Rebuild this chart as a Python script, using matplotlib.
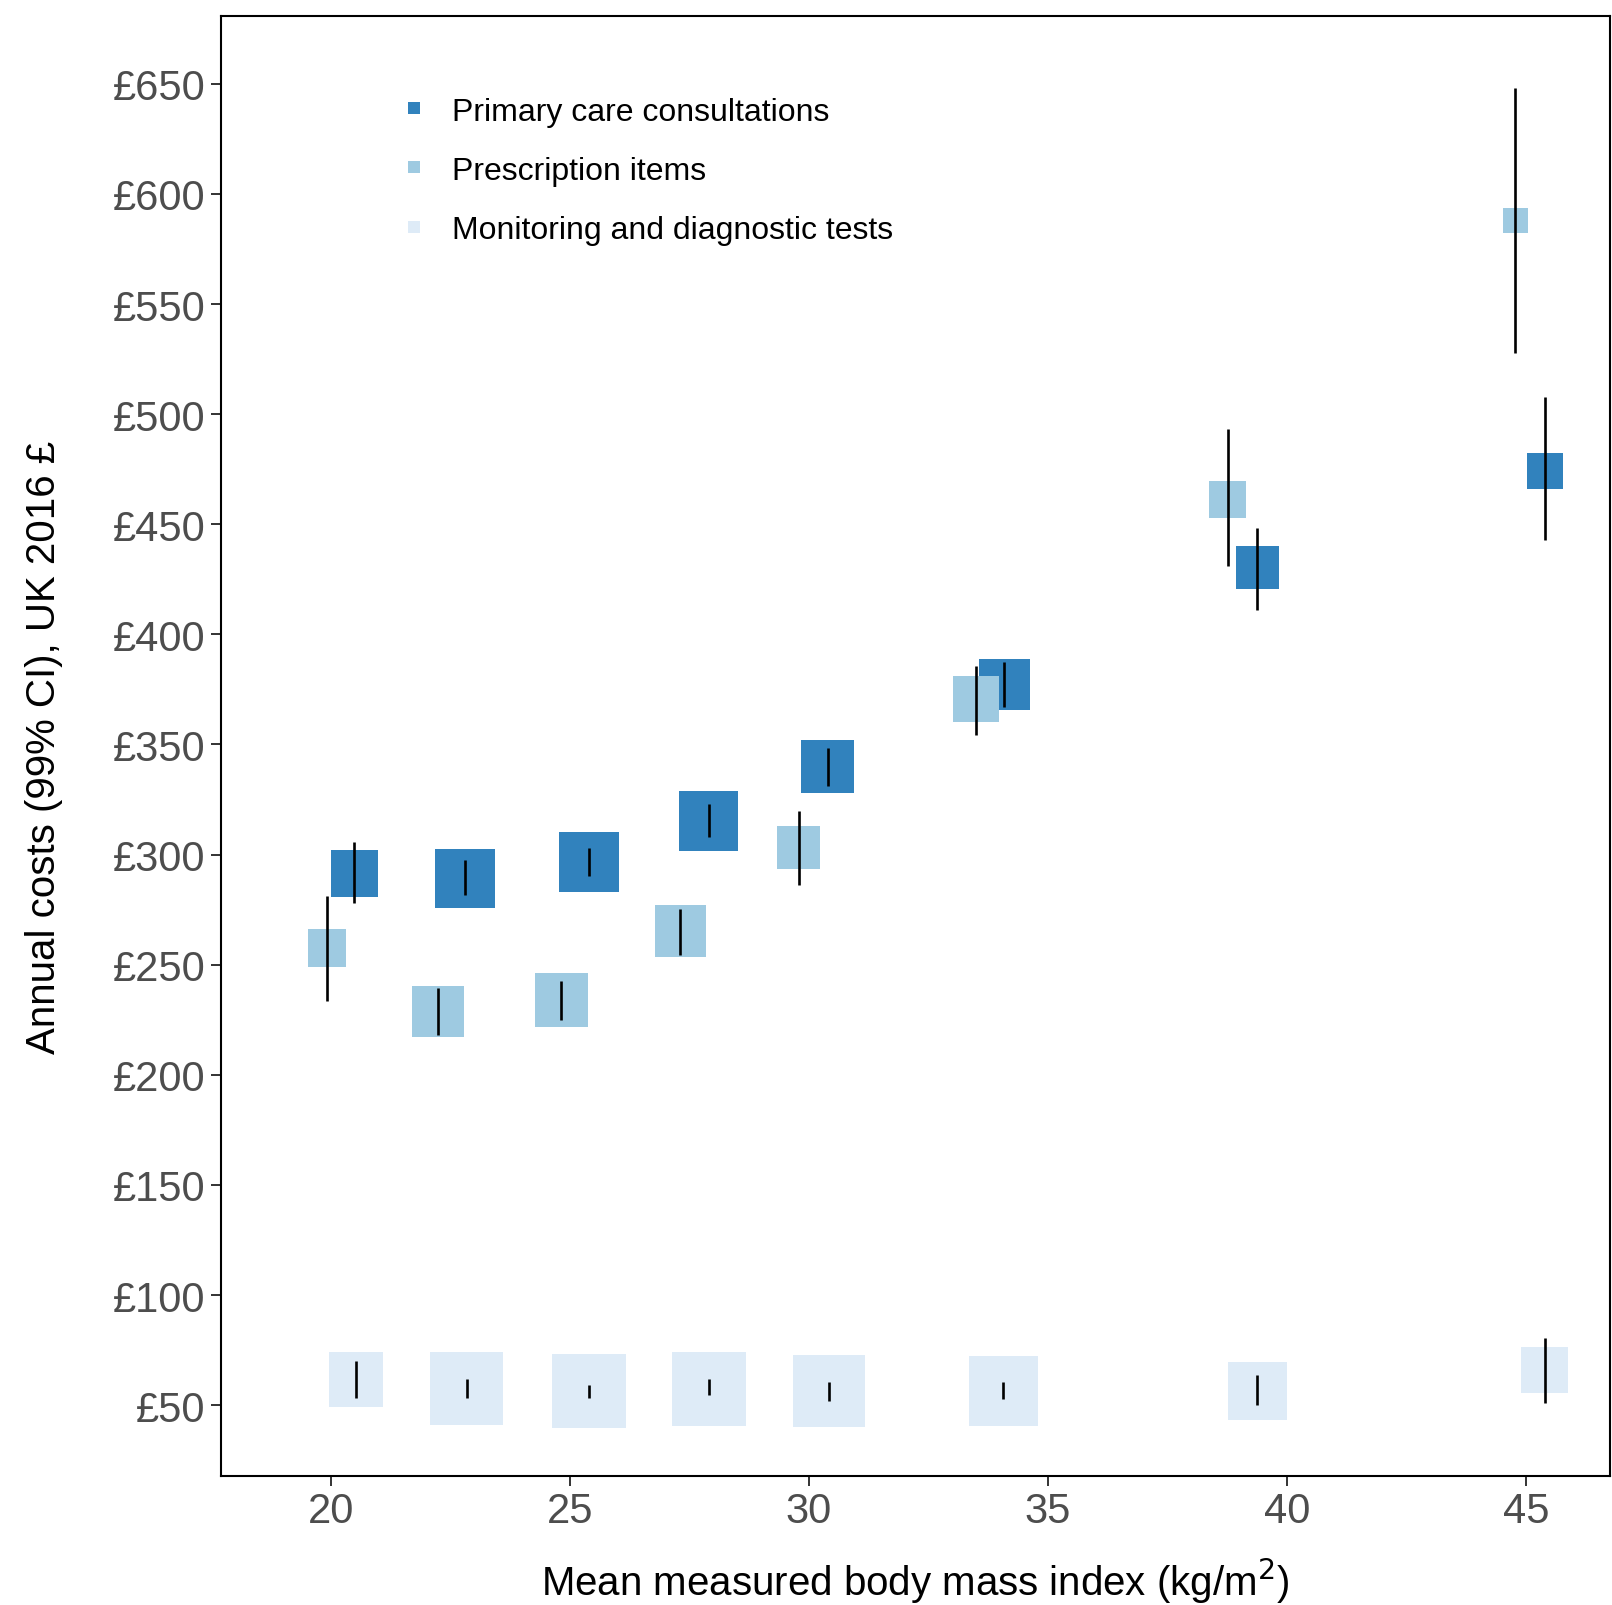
import matplotlib.pyplot as plt
from matplotlib.lines import Line2D

plt.rcParams['font.family'] = ['Liberation Sans', 'DejaVu Sans']

# mean BMI of each group
bmi_primary = [20.49, 22.80, 25.40, 27.90, 30.39, 34.09, 39.38, 45.39]
bmi_presc = [19.91, 22.24, 24.82, 27.31, 29.79, 33.49, 38.76, 44.78]
bmi_monit = [20.52, 22.84, 25.40, 27.90, 30.41, 34.07, 39.38, 45.39]

# annual cost with 99% CI
cost_primary = [291.4, 289.1, 296.5, 315.2, 340.0, 377.3, 430.5, 474.4]
lo_primary = [277.9, 281.6, 290.5, 308.2, 331.1, 367.1, 410.9, 442.7]
hi_primary = [305.9, 297.5, 303.1, 323.2, 348.4, 387.6, 448.3, 507.6]

cost_presc = [257.8, 228.8, 234.0, 265.3, 303.1, 370.8, 461.4, 587.9]
lo_presc = [233.5, 218.1, 225.1, 254.5, 286.3, 354.4, 431.0, 527.7]
hi_presc = [281.1, 239.6, 242.8, 275.5, 319.9, 385.7, 493.1, 648.1]

cost_monit = [61.7, 57.5, 56.5, 57.5, 56.5, 56.5, 56.5, 65.9]
lo_monit = [53.3, 53.3, 53.3, 54.7, 51.9, 52.9, 50.0, 50.9]
hi_monit = [70.1, 61.7, 59.3, 61.7, 60.3, 60.3, 63.5, 80.4]

# relative weight of each group (drawn as square size)
w_primary = [46, 58, 58, 58, 52, 50, 42, 35]
w_presc = [37, 50, 52, 50, 42, 45, 36, 24]
w_monit = [53, 71, 72, 72, 70, 68, 57, 45]

series = [
    ("Primary care consultations", bmi_primary, cost_primary, lo_primary, hi_primary, w_primary, "#3182bd"),
    ("Prescription items", bmi_presc, cost_presc, lo_presc, hi_presc, w_presc, "#9ecae1"),
    ("Monitoring and diagnostic tests", bmi_monit, cost_monit, lo_monit, hi_monit, w_monit, "#deebf7"),
]

fig = plt.figure(figsize=(16.12, 16.06), dpi=100)
ax = fig.add_axes([0.1371, 0.0803, 0.8617, 0.9091])

px2pt = 1.028 * 0.72
handles = []
for name, x, y, lo, hi, w, col in series:
    ax.scatter(x, y, s=[(v * px2pt) ** 2 for v in w], marker='s', color=col,
               linewidths=0, zorder=2)
    handles.append(Line2D([], [], marker='s', linestyle='none', color=col,
                          markersize=9, markeredgewidth=0, label=name))
for name, x, y, lo, hi, w, col in series:
    ax.vlines(x, lo, hi, color='black', linewidth=1.9, zorder=3)

ax.set_xlim(17.70, 46.76)
ax.set_ylim(17.8, 680.8)
ax.set_xticks([20, 25, 30, 35, 40, 45])
yt = list(range(50, 651, 50))
ax.set_yticks(yt)
ax.set_yticklabels(['£%d' % v for v in yt])
ax.tick_params(labelsize=30, labelcolor='#4d4d4d', color='#333333',
               length=7, width=1.4, pad=4)
for s in ax.spines.values():
    s.set_linewidth(1.5)

ax.set_xlabel('Mean measured body mass index (kg/m$^2$)', fontsize=29, labelpad=18)
ax.set_ylabel('Annual costs (99% CI), UK 2016 £', fontsize=29, labelpad=36)

ax.legend(handles=handles, loc='upper left', bbox_to_anchor=(0.111, 0.9645),
          frameon=False, fontsize=23, handlelength=0.6, handletextpad=0.89,
          labelspacing=0.91)

fig.savefig('out.png', dpi=100)
